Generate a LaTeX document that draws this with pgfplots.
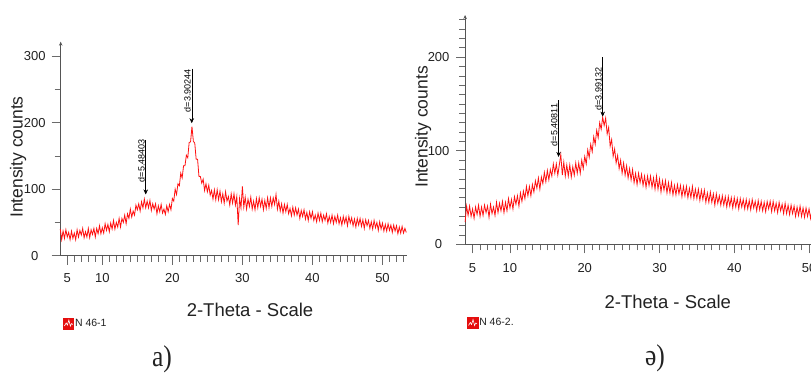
\documentclass[border=0pt]{standalone}
\usepackage{fontspec}
\setmainfont{Liberation Sans}
\newfontfamily\seriffont{Liberation Serif}
\usepackage{pgfplots}
\pgfplotsset{compat=1.18}
\usetikzlibrary{arrows.meta}
\definecolor{axc}{HTML}{555555}
\definecolor{tkc}{HTML}{6A6A6A}
\definecolor{txt}{HTML}{222222}
\definecolor{xrdred}{HTML}{FF1010}

\tikzset{
  dlab/.style={rotate=90, anchor=south west, inner sep=0.8pt, font=\fontsize{9}{9}\selectfont, text=black},
  darr/.style={-{Stealth[length=5pt,width=4.5pt]}, black, line width=0.5pt},
}
\pgfplotsset{
  xrd/.style={
    scale only axis,
    anchor=south west,
    axis lines=left,
    axis line style={-, draw=axc, line width=0.8pt},
    y axis line style={-{Stealth[length=4pt,width=3.5pt]}},
    tick align=outside,
    major tick length=9pt,
    minor tick length=6pt,
    every tick/.style={draw=tkc, line width=0.7pt},
    xtick={5,10,20,30,40,50},
    minor xtick={5,...,53},
    /pgf/number format/assume math mode=true,
    tick label style={font=\fontsize{13}{13}\selectfont, text=txt},
    xticklabel style={anchor=center},
    yticklabel style={anchor=center},
    clip=false,
    legend cell align=left,
    legend image code/.code={
      \fill[xrdred!90!black] (0pt,-5.5pt) rectangle (10.5pt,5.5pt);
      \draw[white, line width=0.6pt] (1pt,-2.5pt) -- (2.8pt,0.5pt) -- (4pt,-1.5pt) -- (5.5pt,3.5pt) -- (7pt,-2.5pt) -- (8.2pt,0pt) -- (9.5pt,-1pt);
    },
  },
}

\begin{document}
\begin{tikzpicture}[x=1pt,y=1pt]

% ---------------- panel a) ----------------
\begin{axis}[xrd,
  at={(60.7pt,118.3pt)},
  width=346.3pt, height=214pt,
  xmin=4.06, xmax=53.5, ymin=0, ymax=321.5,
  ytick={0,100,200,300},
  minor ytick={50,150,250},
  xticklabel style={yshift=-13pt},
  yticklabel style={xshift=-17pt},
  every axis x label/.style={at={(axis description cs:0.5466,-0.2537)}, anchor=center, font=\fontsize{18.5}{18.5}\selectfont, text=txt},
  every axis y label/.style={at={(axis description cs:-0.1233,0.461)}, rotate=90, anchor=center, font=\fontsize{17.5}{17.5}\selectfont, text=txt},
  xlabel={2-Theta - Scale},
  ylabel={Intensity counts},
  legend style={at={(axis description cs:0.006,-0.317)}, anchor=west, draw=none, fill=none, inner sep=0pt, font=\fontsize{10.5}{10.5}\selectfont, text=txt, nodes={inner sep=0.8pt}},
]
\addplot[xrdred, line width=0.8pt] coordinates {
(4.0,40)(4.2,24)(4.4,37)(4.6,26)(4.8,39)(5.0,28)(5.2,35)(5.4,24)(5.6,37)(5.8,26)
(6.0,34)(6.2,24)(6.4,39)(6.6,28)(6.8,38)(7.0,31)(7.2,41)(7.4,27)(7.6,36)(7.8,28)
(8.0,41)(8.2,27)(8.4,39)(8.6,32)(8.8,41)(9.0,28)(9.2,41)(9.4,33)(9.6,45)(9.8,33)
(10.0,42)(10.2,34)(10.4,48)(10.6,38)(10.8,47)(11.0,36)(11.2,49)(11.4,40)(11.6,53)(11.8,40)
(12.0,50)(12.2,43)(12.4,56)(12.6,43)(12.8,56)(13.0,50)(13.2,61)(13.4,48)(13.6,63)(13.8,56)
(14.0,70)(14.2,58)(14.4,67)(14.6,61)(14.8,76)(15.0,69)(15.2,78)(15.4,67)(15.6,81)(15.8,72)
(16.0,85)(16.2,72)(16.4,82)(16.6,72)(16.8,83)(17.0,68)(17.2,78)(17.4,70)(17.6,78)(17.8,63)
(18.0,75)(18.2,66)(18.4,77)(18.6,64)(18.8,70)(19.0,62)(19.2,75)(19.4,66)(19.6,77)(19.8,69)
(20.0,86)(20.2,82)(20.4,100)(20.6,92)(20.8,108)(21.0,105)(21.2,124)(21.4,117)(21.6,135)(21.8,135)
(22.0,151)(22.2,147)(22.4,170)(22.6,171)(22.8,194)(23.0,172)(23.2,169)(23.4,145)(23.6,145)(23.8,119)
(24.0,119)(24.2,109)(24.4,115)(24.6,98)(24.8,108)(25.0,96)(25.2,106)(25.4,91)(25.6,98)(25.8,85)
(26.0,99)(26.2,84)(26.4,99)(26.6,84)(26.8,97)(27.0,81)(27.2,93)(27.4,79)(27.6,96)(27.8,82)
(28.0,89)(28.2,76)(28.4,93)(28.6,79)(28.8,93)(29.0,76)(29.2,89)(29.4,46)(29.6,86)(29.8,72)
(30.0,104)(30.2,73)(30.4,88)(30.6,70)(30.8,85)(31.0,74)(31.2,88)(31.4,70)(31.6,82)(31.8,69)
(32.0,86)(32.2,72)(32.4,87)(32.6,74)(32.8,85)(33.0,69)(33.2,83)(33.4,71)(33.6,87)(33.8,72)
(34.0,87)(34.2,74)(34.4,87)(34.6,77)(34.8,92)(35.0,70)(35.2,82)(35.4,67)(35.6,78)(35.8,64)
(36.0,77)(36.2,66)(36.4,77)(36.6,63)(36.8,71)(37.0,60)(37.2,73)(37.4,61)(37.6,72)(37.8,61)
(38.0,70)(38.2,56)(38.4,68)(38.6,59)(38.8,69)(39.0,55)(39.2,65)(39.4,53)(39.6,66)(39.8,56)
(40.0,66)(40.2,53)(40.4,61)(40.6,51)(40.8,64)(41.0,53)(41.2,64)(41.4,51)(41.6,61)(41.8,53)
(42.0,63)(42.2,49)(42.4,59)(42.6,50)(42.8,61)(43.0,48)(43.2,59)(43.4,50)(43.6,61)(43.8,48)
(44.0,57)(44.2,46)(44.4,59)(44.6,49)(44.8,58)(45.0,45)(45.2,59)(45.4,49)(45.6,57)(45.8,45)
(46.0,55)(46.2,43)(46.4,56)(46.6,46)(46.8,56)(47.0,44)(47.2,54)(47.4,41)(47.6,54)(47.8,45)
(48.0,53)(48.2,41)(48.4,51)(48.6,40)(48.8,53)(49.0,42)(49.2,50)(49.4,38)(49.6,51)(49.8,40)
(50.0,49)(50.2,37)(50.4,47)(50.6,37)(50.8,48)(51.0,38)(51.2,46)(51.4,35)(51.6,46)(51.8,37)
(52.0,45)(52.2,33)(52.4,43)(52.6,34)(52.8,44)(53.0,34)(53.2,41)(53.4,35)
};
\addlegendentry{N 46-1}
\draw[darr] (axis cs:16.2,174) -- (axis cs:16.2,92);
\node[dlab] at (axis cs:16.2,109) {d=5.48403};
\draw[darr] (axis cs:22.77,281) -- (axis cs:22.77,199);
\node[dlab] at (axis cs:22.77,214) {d=3.90244};
\end{axis}

% ---------------- panel ə) ----------------
\begin{axis}[xrd,
  at={(465.1pt,129.5pt)},
  width=370.1pt, height=229.5pt,
  xmin=4, xmax=53.5, ymin=0, ymax=245,
  ytick={0,100,200},
  minor ytick={10,20,...,240},
  xticklabel style={yshift=-14.5pt},
  yticklabel style={xshift=-17.5pt},
  every axis x label/.style={at={(axis description cs:0.5477,-0.2505)}, anchor=center, font=\fontsize{18.5}{18.5}\selectfont, text=txt},
  every axis y label/.style={at={(axis description cs:-0.1138,0.512)}, rotate=90, anchor=center, font=\fontsize{17.5}{17.5}\selectfont, text=txt},
  xlabel={2-Theta - Scale},
  ylabel={Intensity counts},
  legend style={at={(axis description cs:0.005,-0.342)}, anchor=west, draw=none, fill=none, inner sep=0pt, font=\fontsize{10.5}{10.5}\selectfont, text=txt, nodes={inner sep=0.8pt}},
]
\addplot[xrdred, line width=0.8pt] coordinates {
(4.0,24)(4.2,41)(4.4,31)(4.6,41)(4.8,30)(5.0,38)(5.2,28)(5.4,40)(5.6,32)(5.8,42)
(6.0,30)(6.2,40)(6.4,31)(6.6,42)(6.8,34)(7.0,41)(7.2,29)(7.4,43)(7.6,33)(7.8,40)
(8.0,31)(8.2,45)(8.4,34)(8.6,44)(8.8,36)(9.0,46)(9.2,34)(9.4,45)(9.6,36)(9.8,49)
(10.0,39)(10.2,48)(10.4,38)(10.6,51)(10.8,43)(11.0,52)(11.2,41)(11.4,55)(11.6,46)(11.8,57)
(12.0,49)(12.2,62)(12.4,52)(12.6,62)(12.8,52)(13.0,64)(13.2,56)(13.4,68)(13.6,60)(13.8,71)
(14.0,59)(14.2,72)(14.4,65)(14.6,77)(14.8,67)(15.0,79)(15.2,69)(15.4,80)(15.6,73)(15.8,86)
(16.0,76)(16.2,86)(16.4,74)(16.6,85)(16.8,96)(17.0,74)(17.2,88)(17.4,73)(17.6,85)(17.8,73)
(18.0,85)(18.2,72)(18.4,83)(18.6,74)(18.8,87)(19.0,76)(19.2,87)(19.4,76)(19.6,90)(19.8,81)
(20.0,94)(20.2,86)(20.4,101)(20.6,93)(20.8,107)(21.0,99)(21.2,115)(21.4,107)(21.6,122)(21.8,114)
(22.0,130)(22.2,123)(22.4,136)(22.6,127)(22.8,135)(23.0,118)(23.2,125)(23.4,105)(23.6,112)(23.8,94)
(24.0,102)(24.2,87)(24.4,95)(24.6,81)(24.8,90)(25.0,76)(25.2,87)(25.4,74)(25.6,84)(25.8,71)
(26.0,81)(26.2,69)(26.4,80)(26.6,66)(26.8,76)(27.0,64)(27.2,76)(27.4,66)(27.6,75)(27.8,63)
(28.0,73)(28.2,61)(28.4,73)(28.6,63)(28.8,73)(29.0,61)(29.2,71)(29.4,59)(29.6,73)(29.8,59)
(30.0,70)(30.2,56)(30.4,68)(30.6,58)(30.8,68)(31.0,55)(31.2,66)(31.4,55)(31.6,66)(31.8,53)
(32.0,63)(32.2,53)(32.4,64)(32.6,54)(32.8,63)(33.0,51)(33.2,62)(33.4,52)(33.6,62)(33.8,50)
(34.0,60)(34.2,50)(34.4,62)(34.6,49)(34.8,59)(35.0,49)(35.2,59)(35.4,47)(35.6,58)(35.8,48)
(36.0,58)(36.2,45)(36.4,55)(36.6,45)(36.8,56)(37.0,45)(37.2,54)(37.4,42)(37.6,54)(37.8,44)
(38.0,52)(38.2,42)(38.4,52)(38.6,42)(38.8,51)(39.0,40)(39.2,51)(39.4,41)(39.6,50)(39.8,39)
(40.0,50)(40.2,40)(40.4,49)(40.6,38)(40.8,49)(41.0,40)(41.2,48)(41.4,38)(41.6,48)(41.8,38)
(42.0,47)(42.2,37)(42.4,48)(42.6,39)(42.8,46)(43.0,36)(43.2,47)(43.4,37)(43.6,46)(43.8,36)
(44.0,45)(44.2,35)(44.4,46)(44.6,38)(44.8,46)(45.0,35)(45.2,46)(45.4,36)(45.6,44)(45.8,34)
(46.0,45)(46.2,36)(46.4,43)(46.6,33)(46.8,44)(47.0,33)(47.2,42)(47.4,32)(47.6,42)(47.8,33)
(48.0,41)(48.2,30)(48.4,40)(48.6,31)(48.8,41)(49.0,30)(49.2,39)(49.4,29)(49.6,39)(49.8,30)
(50.0,38)(50.2,28)(50.4,37)(50.6,29)(50.8,37)(51.0,29)
};
\addlegendentry{N 46-2.}
\draw[darr] (axis cs:16.5,154) -- (axis cs:16.5,93.5);
\node[dlab] at (axis cs:16.5,104) {d=5.40811};
\draw[darr] (axis cs:22.4,200) -- (axis cs:22.4,136.5);
\node[dlab] at (axis cs:22.4,142) {d=3.99132};
\end{axis}

% panel labels
\node[font=\seriffont\fontsize{30}{30}\selectfont, text=txt, xscale=0.85] at (162pt,15pt) {a)};
\node[font=\seriffont\fontsize{30}{30}\selectfont, text=txt, xscale=0.85] at (655pt,16pt) {ə)};

\pgfresetboundingbox
\path (0pt,0pt) rectangle (811pt,374pt);
\end{tikzpicture}
\end{document}
